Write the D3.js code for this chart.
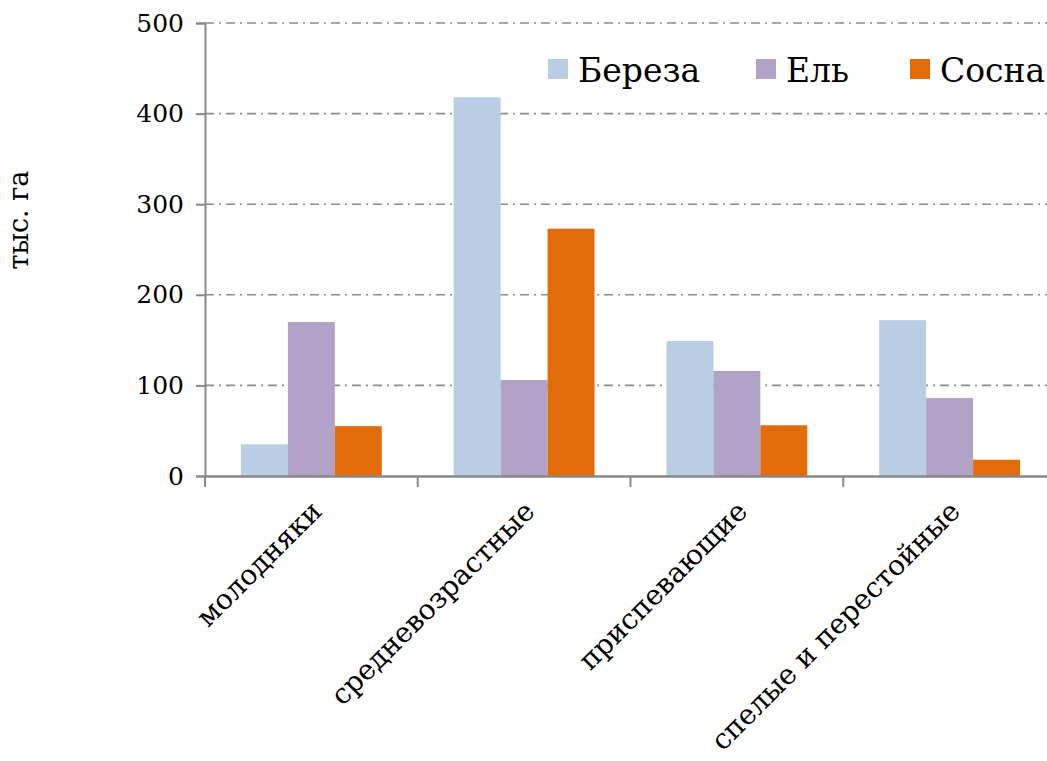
<!DOCTYPE html>
<html><head><meta charset="utf-8">
<script src="https://cdn.jsdelivr.net/npm/d3@7"></script>
<style>body{margin:0;background:#fff}svg{display:block}text{font-family:"DejaVu Serif","Liberation Serif",serif;fill:#000}</style>
</head><body><svg id="c" width="1047" height="761"></svg>
<script>
const categories = ["молодняки","средневозрастные","приспевающие","спелые и перестойные"];
const seriesNames = ["Береза","Ель","Сосна"];
const colors = ["#b9cde4","#b3a2c7","#e36c0a"];
const bereza = [35, 418, 149, 172];
const el = [170, 106, 116, 86];
const sosna = [55, 273, 56, 18];
const seriesValues = [bereza, el, sosna];
const yTicks = [0, 100, 200, 300, 400, 500];
const yLabel = "тыс. га";

(function(){
const svg = d3.select("#c");
const mLeft = 205, mRight = 1056, mTop = 23, mBottom = 476;
const x = d3.scaleBand().domain(categories).range([mLeft, mRight]).paddingInner(0).paddingOuter(0);
const x1 = d3.scaleBand().domain(seriesNames).range([0, x.bandwidth()]).paddingInner(0).paddingOuter(0.766);
const y = d3.scaleLinear().domain([0, 500]).range([mBottom, mTop]);

// grid
svg.append("g").selectAll("line").data(yTicks.filter(d => d > 0)).join("line")
  .attr("x1", mLeft).attr("x2", 1047).attr("y1", d => y(d)).attr("y2", d => y(d))
  .attr("stroke", "#8c8c8c").attr("stroke-width", 1.6).attr("stroke-dasharray", "9,5,2,5");

// bars
categories.forEach((c, i) => {
  svg.append("g").selectAll("rect").data(seriesNames).join("rect")
    .attr("x", s => x(c) + x1(s)).attr("width", x1.bandwidth())
    .attr("y", (s, j) => y(seriesValues[j][i]))
    .attr("height", (s, j) => y(0) - y(seriesValues[j][i]))
    .attr("fill", (s, j) => colors[j]);
});

// y axis
const ya = svg.append("g").attr("transform", `translate(${mLeft},0)`)
  .call(d3.axisLeft(y).tickValues(yTicks).tickSize(9).tickPadding(12).tickFormat(d3.format("d")));
ya.select(".domain").attr("stroke", "#888").attr("stroke-width", 2);
ya.selectAll(".tick line").attr("stroke", "#888").attr("stroke-width", 2);
ya.selectAll("text").attr("font-size", 25).attr("fill", "#000").style("font-family", "DejaVu Serif");

// x axis
const xa = svg.append("g").attr("transform", `translate(0,${mBottom})`)
  .call(d3.axisBottom(x).tickSize(0).tickFormat(""));
xa.select(".domain").attr("stroke", "#888").attr("stroke-width", 2.5);
svg.append("g").selectAll("line").data([0,1,2,3]).join("line")
  .attr("x1", i => x(categories[i])).attr("x2", i => x(categories[i]))
  .attr("y1", mBottom).attr("y2", mBottom + 11).attr("stroke", "#888").attr("stroke-width", 2);

// category labels
svg.append("g").selectAll("text").data(categories).join("text")
  .attr("transform", d => `translate(${x(d) + x.bandwidth()/2 + 12},${mBottom + 37}) rotate(-45)`)
  .attr("text-anchor", "end").attr("font-size", 28).text(d => d);

// y label
svg.append("text").attr("transform", `translate(28,220) rotate(-90)`)
  .attr("text-anchor", "middle").attr("font-size", 27).text(yLabel);

// legend
const legX = [548, 756, 910];
seriesNames.forEach((s, j) => {
  svg.append("rect").attr("x", legX[j]).attr("y", 59).attr("width", 20).attr("height", 20).attr("fill", colors[j]);
  svg.append("text").attr("x", legX[j] + 30).attr("y", 82).attr("font-size", 33).text(s);
});
})();
</script></body></html>
